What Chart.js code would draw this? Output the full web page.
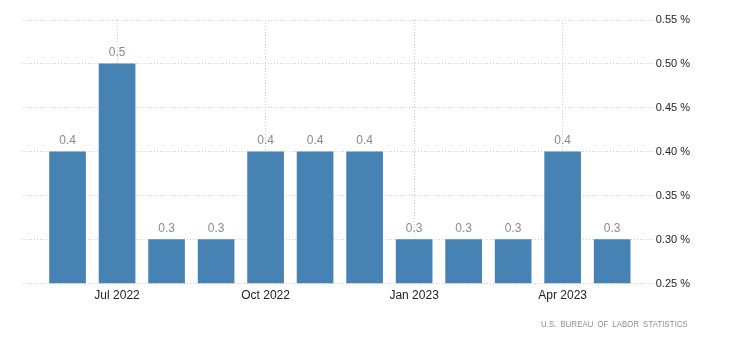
<!DOCTYPE html>
<html>
<head>
<meta charset="utf-8">
<script src="https://cdn.jsdelivr.net/npm/chart.js@4"></script>
<style>
  body { margin: 0; background: #fff; }
  #wrap { position: relative; width: 730px; height: 350px; }
  #source {
    position: absolute; right: 42px; top: 319px;
    font: 9px "Liberation Sans", Arial, sans-serif;
    color: #8a8a8a; letter-spacing: 0.2px; word-spacing: 2px;
    transform: scaleX(0.85); transform-origin: right center;
  }
</style>
</head>
<body>
<div id="wrap">
  <canvas id="chart" width="730" height="350"></canvas>
  <div id="source">U.S. BUREAU OF LABOR STATISTICS</div>
</div>
<script>
// months shown, one bar each
const months = ['Jun 2022', 'Jul 2022', 'Aug 2022', 'Sep 2022', 'Oct 2022', 'Nov 2022',
                'Dec 2022', 'Jan 2023', 'Feb 2023', 'Mar 2023', 'Apr 2023', 'May 2023'];
const values = [0.4, 0.5, 0.3, 0.3, 0.4, 0.4, 0.4, 0.3, 0.3, 0.3, 0.4, 0.3];
const labelMonths = ['Jul 2022', 'Oct 2022', 'Jan 2023', 'Apr 2023'];
const yTicks = [0.25, 0.30, 0.35, 0.40, 0.45, 0.50, 0.55];

const FONT = '"Liberation Sans", Arial, sans-serif';

// value labels above each bar
const valueLabels = {
  id: 'valueLabels',
  afterDatasetsDraw(chart) {
    const ctx = chart.ctx;
    const meta = chart.getDatasetMeta(0);
    ctx.save();
    ctx.font = '12px ' + FONT;
    ctx.fillStyle = '#8a8a8a';
    ctx.textAlign = 'center';
    ctx.textBaseline = 'bottom';
    meta.data.forEach((bar, i) => {
      ctx.fillText(values[i].toFixed(1), bar.x, bar.y - 5);
    });
    ctx.restore();
  }
};

new Chart(document.getElementById('chart'), {
  type: 'bar',
  data: {
    datasets: [{
      data: values.map((v, i) => ({ x: i, y: v })),
      backgroundColor: '#4682b4',
      barThickness: 36,
      base: 0.25
    }]
  },
  options: {
    responsive: false,
    animation: false,
    layout: { padding: { left: 22, right: 37, top: 20, bottom: 42 } },
    plugins: { legend: { display: false }, tooltip: { enabled: false } },
    scales: {
      x: {
        type: 'linear',
        offset: false,
        min: -0.92,
        max: 11.82,
        afterBuildTicks: axis => {
          axis.ticks = labelMonths.map(m => ({ value: months.indexOf(m) }));
        },
        ticks: {
          color: '#222',
          font: { family: FONT, size: 12 },
          padding: 5,
          maxRotation: 0,
          callback: v => months[v]
        },
        grid: { color: '#cccccc', offset: false, drawTicks: false },
        border: { display: false, dash: [1, 2] }
      },
      y: {
        position: 'right',
        min: 0.25,
        max: 0.55,
        afterBuildTicks: axis => {
          axis.ticks = yTicks.map(v => ({ value: v }));
        },
        ticks: {
          color: '#222',
          font: { family: FONT, size: 11 },
          padding: 3,
          callback: v => v.toFixed(2) + ' %'
        },
        grid: { color: '#cccccc', drawTicks: false },
        border: { display: false, dash: [1, 2] }
      }
    }
  },
  plugins: [valueLabels]
});
</script>
</body>
</html>
